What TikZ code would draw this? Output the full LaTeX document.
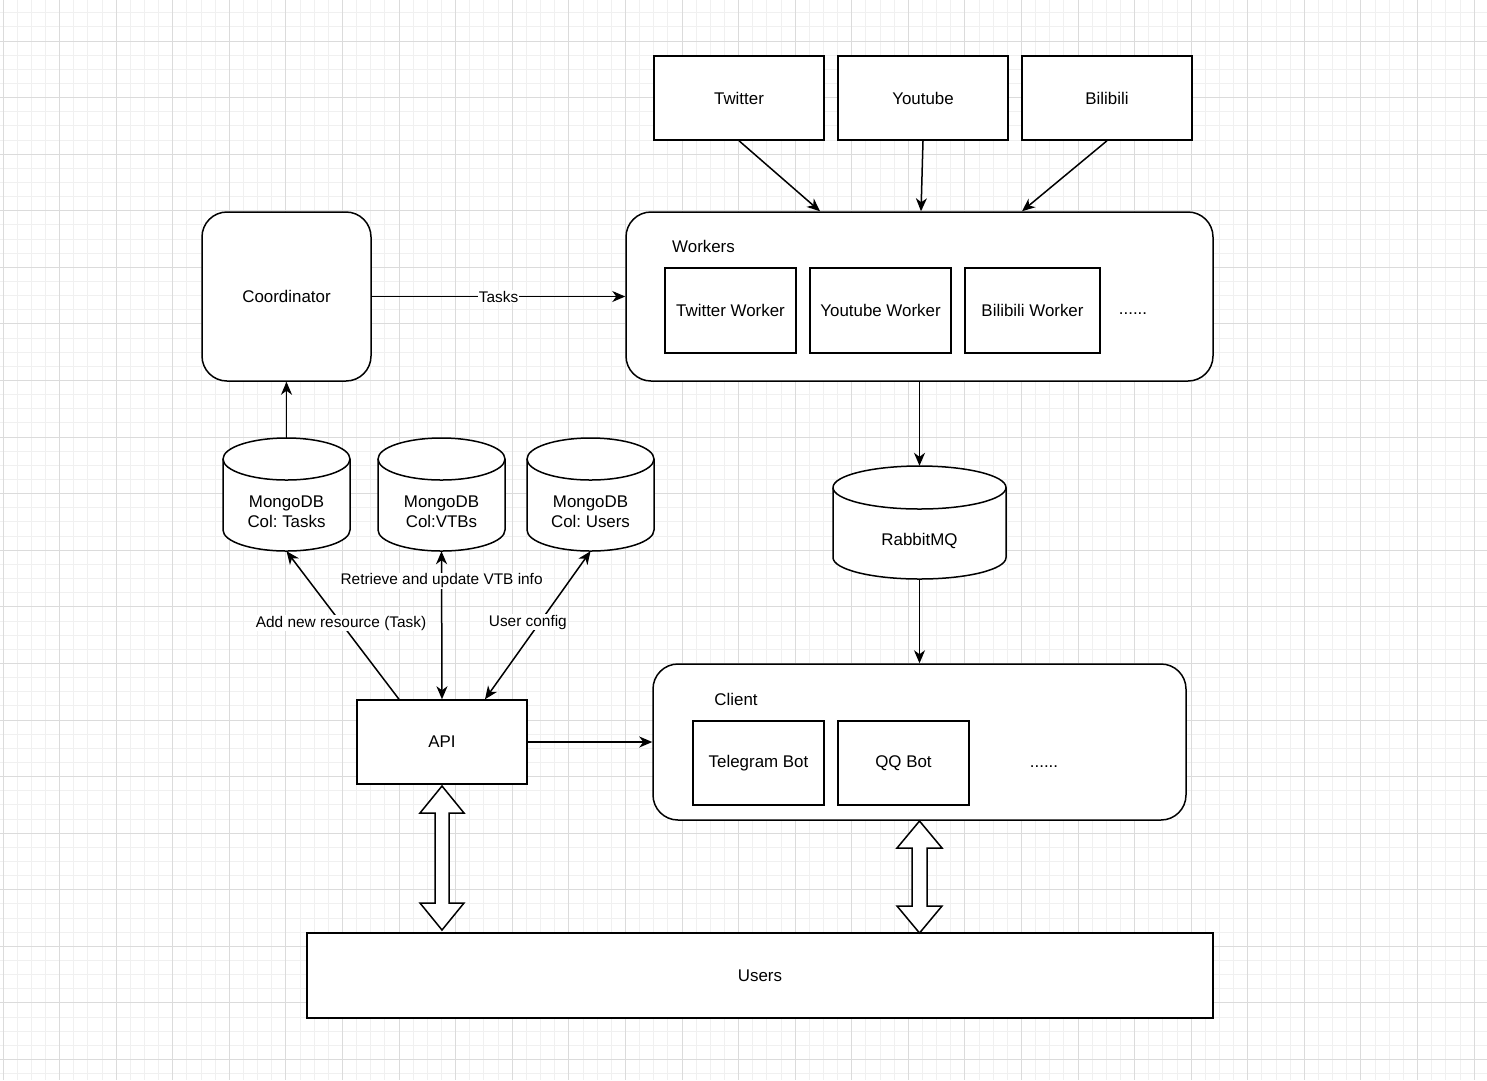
\documentclass[tikz,border=0pt]{standalone}
\usepackage{fontspec}
\setmainfont{Liberation Sans}
\usetikzlibrary{arrows.meta,calc}
\frenchspacing
\tikzset{
  shapeline/.style={line width=1.5pt, draw=black},
  sbox/.style={shapeline, fill=white, rectangle, inner sep=0pt, minimum width=170, minimum height=84, font=\fontsize{16.9}{20}\selectfont},
  rbox/.style={sbox, rounded corners=25pt},
  cylbox/.style={rectangle, inner sep=0pt},
  txt/.style={inner sep=0pt, font=\fontsize{16.9}{20}\selectfont, align=center},
  elbl/.style={fill=white, inner sep=1pt, font=\fontsize{15.4}{18}\selectfont},
  conn/.style={line width=1.5pt, -{Stealth[length=13pt,width=11pt,inset=4pt]}},
  dconn/.style={line width=1.5pt, {Stealth[length=13pt,width=11pt,inset=4pt]}-{Stealth[length=13pt,width=11pt,inset=4pt]}}
}
% name, cx, top, rx, bottom, ry
\newcommand{\dbcyl}[6]{%
  \draw[shapeline, fill=white] ({#2-#4},{#3+#6}) -- ({#2-#4},{#5-#6})
    arc[start angle=180,end angle=0,x radius=#4,y radius=#6]
    -- ({#2+#4},{#3+#6})
    arc[start angle=0,end angle=-180,x radius=#4,y radius=#6] -- cycle;
  \draw[shapeline] ({#2-#4},{#3+#6}) arc[start angle=180,end angle=0,x radius=#4,y radius=#6];
  \node[cylbox, minimum width={2*#4}, minimum height={#5-#3}] (#1) at ({#2},{(#3+#5)/2}) {};
}
\begin{document}
\begin{tikzpicture}[x=1pt,y=-1pt]
\useasboundingbox (0,0) rectangle (1487,1080);
\fill[white] (0,0) rectangle (1487,1080);
% grid
\foreach \i in {0,...,105} {
  \pgfmathsetmacro{\gx}{3+\i*14.145}
  \draw[color=black!6, line width=0.9pt] (\gx,0) -- (\gx,1080);
}
\foreach \i in {0,...,75} {
  \pgfmathsetmacro{\gy}{12.71+\i*14.145}
  \draw[color=black!6, line width=0.9pt] (0,\gy) -- (1487,\gy);
}
\foreach \i in {0,...,26} {
  \pgfmathsetmacro{\gx}{3+\i*56.58}
  \draw[color=black!14, line width=0.9pt] (\gx,0) -- (\gx,1080);
}
\foreach \i in {0,...,18} {
  \pgfmathsetmacro{\gy}{41+\i*56.58}
  \draw[color=black!14, line width=0.9pt] (0,\gy) -- (1487,\gy);
}

% sources
\node[sbox] (twitter) at (739,98) {Twitter};
\node[sbox] (youtube) at (923,98) {Youtube};
\node[sbox] (bilibili) at (1107,98) {Bilibili};

% workers
\node[rbox, minimum width=587, minimum height=169] (workers) at (919.5,296.5) {};
\node[txt] (workerslbl) at (703.5,246) {Workers};
\node[sbox, minimum width=131, minimum height=85] (tw) at (730.5,310.5) {Twitter Worker};
\node[sbox, minimum width=141, minimum height=85] (yw) at (880.5,310.5) {Youtube Worker};
\node[sbox, minimum width=135, minimum height=85] (bw) at (1032.5,310.5) {Bilibili Worker};
\node[txt] (wdots) at (1133,314) {......};

% coordinator
\node[rbox, minimum width=169, minimum height=169] (coord) at (286.5,296.5) {Coordinator};

% databases
\dbcyl{tasks}{286.5}{438}{63.5}{551}{21}
\node[txt] (taskstxt) at (286.5,512) {MongoDB\\Col: Tasks};
\dbcyl{vtbs}{441.5}{438}{63.5}{551}{21}
\node[txt] (vtbstxt) at (441.5,512) {MongoDB\\Col:VTBs};
\dbcyl{usersdb}{590.5}{438}{63.5}{551}{21}
\node[txt] (usersdbtxt) at (590.5,512) {MongoDB\\Col: Users};
\dbcyl{rabbit}{919.5}{466}{86.5}{579}{21.5}
\node[txt] (rabbittxt) at (919.5,541) {RabbitMQ};

% API
\node[sbox] (api) at (442,742) {API};

% client
\node[rbox, minimum width=533, minimum height=156] (client) at (919.5,742) {};
\node[txt] (clientlbl) at (736,699) {Client};
\node[sbox, minimum width=131, minimum height=84] (tg) at (758.5,763) {Telegram Bot};
\node[sbox, minimum width=131, minimum height=84] (qq) at (903.5,763) {QQ Bot};
\node[txt] (cdots) at (1044,767) {......};

% users
\node[sbox, minimum width=906, minimum height=85] (users) at (760,975.5) {Users};

% connectors
\draw[conn] (twitter.south) -- ([xshift=-99.5pt]workers.north);
\draw[conn] (youtube.south) -- ([xshift=1.5pt]workers.north);
\draw[conn] (bilibili.south) -- ([xshift=102.5pt]workers.north);
\draw[conn] (coord.east) -- node[elbl] {Tasks} (workers.west);
\draw[conn] (tasks.north) -- (coord.south);
\draw[conn] (workers.south) -- (rabbit.north);
\draw[conn] (rabbit.south) -- (client.north);
\draw[conn] (api.east) -- (client.west);
\draw[conn] ([xshift=-43pt]api.north) -- node[elbl, pos=0.515] {Add new resource (Task)} (tasks.south);
\draw[dconn] (api.north) -- node[elbl, pos=0.8] {Retrieve and update VTB info} (vtbs.south);
\draw[dconn] ([xshift=43pt]api.north) -- node[elbl, pos=0.52, xshift=-12pt] {User config} (usersdb.south);

% block double arrows
\draw[shapeline, fill=white, line join=miter] (442,786) -- (464,813) -- (449,813) -- (449,903) -- (464,903) -- (442,930) -- (420,903) -- (435,903) -- (435,813) -- (420,813) -- cycle;
\draw[shapeline, fill=white, line join=miter] (919.5,821) -- (942,848) -- (927,848) -- (927,906) -- (942,906) -- (919.5,933) -- (897,906) -- (912,906) -- (912,848) -- (897,848) -- cycle;
\end{tikzpicture}
\end{document}
